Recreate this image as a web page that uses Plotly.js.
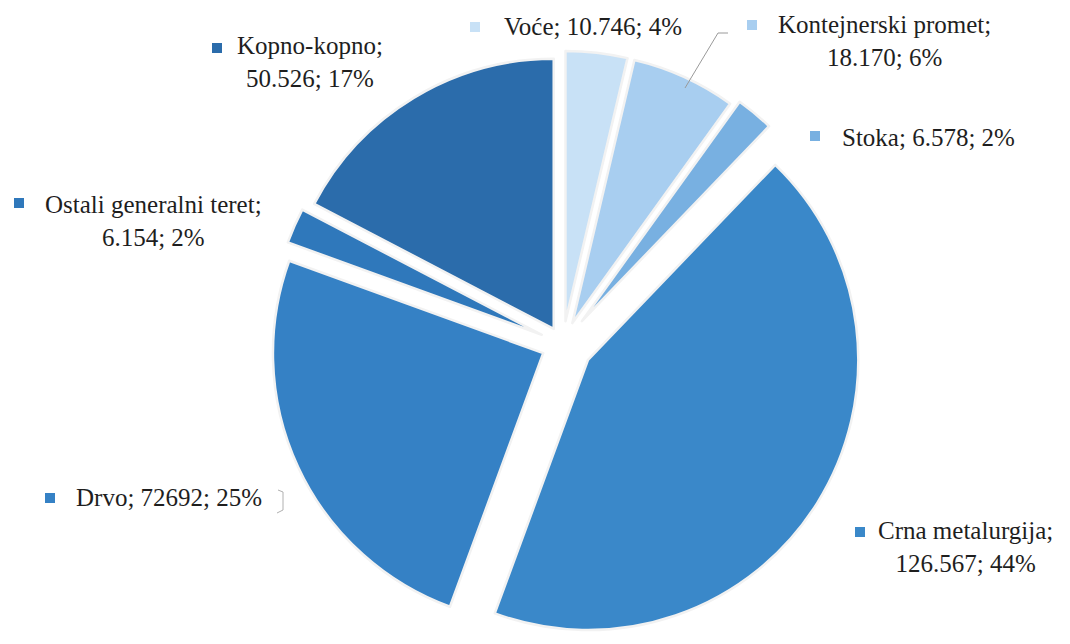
<!DOCTYPE html>
<html>
<head>
<meta charset="utf-8">
<script src="https://cdn.plot.ly/plotly-3.0.1.min.js"></script>
<style>html,body{margin:0;padding:0;background:#fff;}#chart{width:1070px;height:644px;}</style>
</head>
<body>
<div id="chart"></div>
<script>
// Data (clockwise from 12 o'clock)
const categories = ['Voće', 'Kontejnerski promet', 'Stoka', 'Crna metalurgija', 'Drvo', 'Ostali generalni teret', 'Kopno-kopno'];
const values = [10746, 18170, 6578, 126567, 72692, 6154, 50526];
const valueLabels = ['10.746', '18.170', '6.578', '126.567', '72692', '6.154', '50.526'];
const percentLabels = ['4%', '6%', '2%', '44%', '25%', '2%', '17%'];

// Styling
const colors = ['#c8e1f6', '#a8cef0', '#78b0e1', '#3a88c9', '#3581c5', '#2f78bb', '#2b6cab'];
const pulls = [0.085, 0.085, 0.11, 0.11, 0.08, 0.085, 0.065];
// label layout (px): [text center x, text center y, two lines?, marker center x, marker center y]
const labelPos = [
  [593, 27, false, 475, 27],
  [884, 41, true, 752, 25],
  [928, 137, false, 815, 136],
  [966, 547, true, 860, 532],
  [169, 497, false, 50, 498],
  [153, 221, true, 19, 203],
  [310, 62, true, 217, 48]
];

const W = 1070, H = 644;
const px = x => x / W;
const py = y => 1 - y / H;
const FONT = 'Liberation Serif';

const annotations = categories.map((c, i) => {
  const sep = labelPos[i][2] ? '<br>' : ' ';
  return {
    xref: 'paper', yref: 'paper',
    x: px(labelPos[i][0]), y: py(labelPos[i][1]),
    xanchor: 'center', yanchor: 'middle',
    text: c + ';' + sep + valueLabels[i] + '; ' + percentLabels[i],
    showarrow: false,
    align: 'center',
    font: {family: FONT, size: 25, color: '#1e1e1e'}
  };
});

const shapes = [
  {type: 'path', xref: 'paper', yref: 'paper',
   path: 'M ' + px(728) + ' ' + py(33) + ' L ' + px(718) + ' ' + py(33) + ' L ' + px(685) + ' ' + py(88),
   line: {color: '#9a9a9a', width: 1}},
  {type: 'path', xref: 'paper', yref: 'paper',
   path: 'M ' + px(278) + ' ' + py(490) + ' L ' + px(283) + ' ' + py(492) + ' L ' + px(283) + ' ' + py(510) + ' L ' + px(277) + ' ' + py(513),
   line: {color: '#b0b0b0', width: 1}}
].concat(labelPos.map((p, i) => ({
  type: 'rect', xref: 'paper', yref: 'paper',
  x0: px(p[3] - 5), x1: px(p[3] + 5), y0: py(p[4] - 5), y1: py(p[4] + 5),
  fillcolor: colors[i], line: {width: 0}
})));

const trace = {
  type: 'pie',
  labels: categories,
  values: values,
  sort: false,
  direction: 'clockwise',
  rotation: 0,
  pull: pulls,
  textinfo: 'none',
  hoverinfo: 'none',
  marker: {colors: colors, line: {color: '#f2f2f2', width: 2.5}},
  domain: {x: [0.052, 1], y: [0, 1 - 44 / 644]},
  showlegend: false
};

const layout = {
  width: W, height: H,
  margin: {l: 0, r: 0, t: 0, b: 0},
  paper_bgcolor: '#ffffff',
  plot_bgcolor: '#ffffff',
  font: {family: FONT},
  showlegend: false,
  annotations: annotations,
  shapes: shapes
};

Plotly.newPlot('chart', [trace], layout, {displayModeBar: false, staticPlot: true});
</script>
</body>
</html>
